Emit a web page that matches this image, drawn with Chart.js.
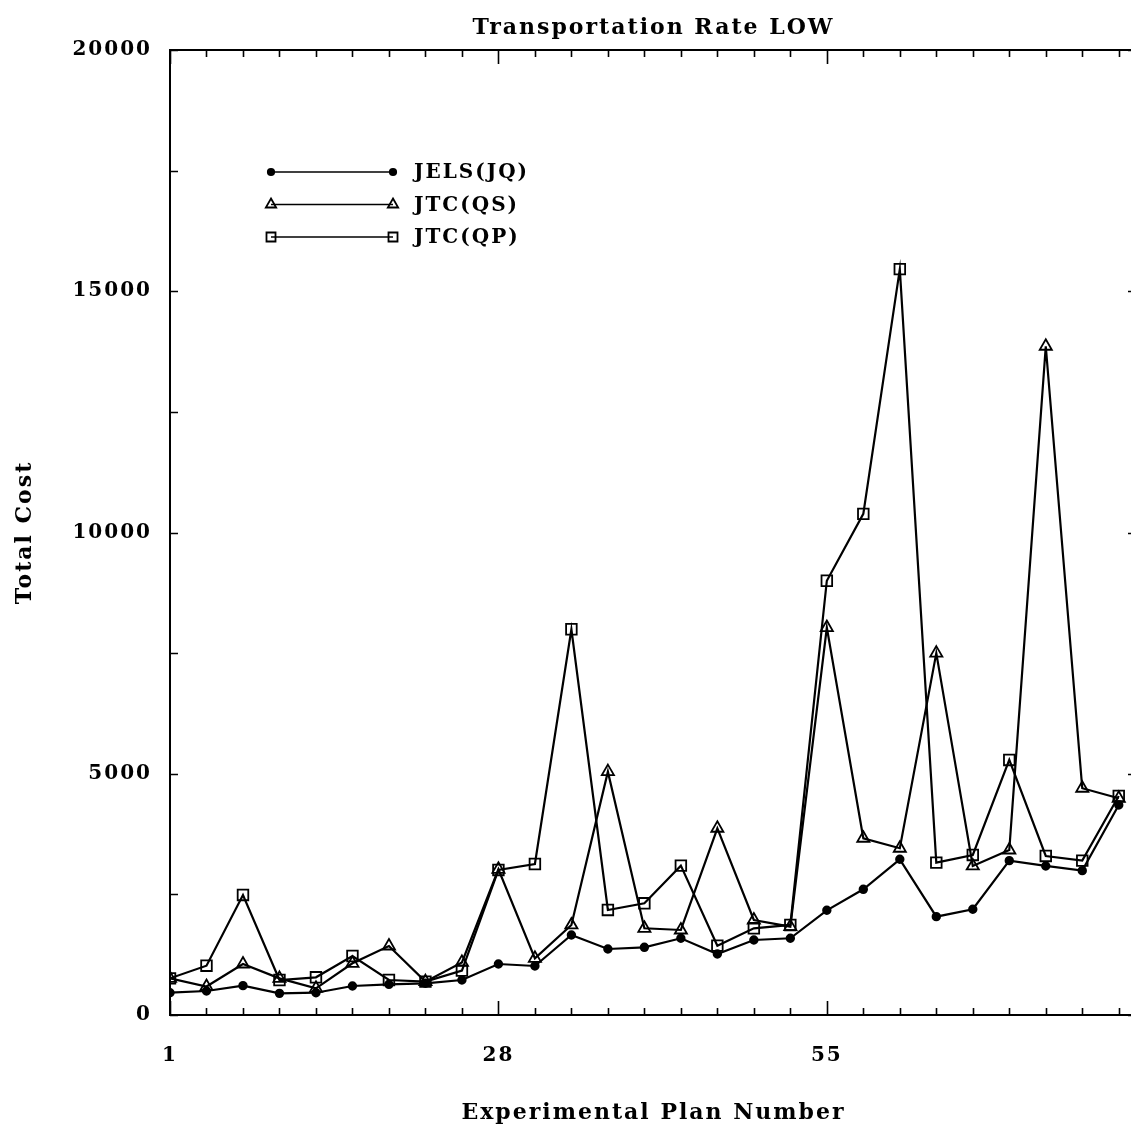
<!DOCTYPE html>
<html><head><meta charset="utf-8">
<script src="https://cdn.jsdelivr.net/npm/chart.js@4.4.1/dist/chart.umd.min.js"></script>
<style>
html,body{margin:0;padding:0;background:#fff;overflow:hidden}
#wrap{width:1131px;height:1130px;overflow:hidden;position:relative;background:#fff}
canvas{display:block}
</style></head><body>
<div id="wrap"><canvas id="c" width="1150" height="1130" style="width:1150px;height:1130px"></canvas></div>
<script>
// ---- data ----
const planNumbers = [1,4,7,10,13,16,19,22,25,28,31,34,37,40,43,46,49,52,55,58,61,64,67,70,73,76,79];
const jelsJQ = [462,497,608,449,462,601,636,657,725,1057,1016,1658,1368,1403,1590,1265,1555,1590,2170,2605,3227,2038,2191,3199,3089,2992,4353];
const jtcQS  = [760,590,1057,760,553,1071,1430,691,1090,3020,1175,1866,5044,1797,1762,3870,1969,1831,8030,3663,3456,7500,3089,3420,13860,4700,4492];
const jtcQP  = [760,1022,2488,725,781,1223,725,691,919,3006,3130,7995,2177,2315,3095,1437,1797,1866,9000,10386,15458,3158,3317,5286,3296,3199,4540];
const seriesNames = ['JELS(JQ)','JTC(QS)','JTC(QP)'];
const xTickLabels = [1,28,55];
const yTickValues = [0,5000,10000,15000,20000];
const chartTitle = 'Transportation Rate LOW';
const xTitle = 'Experimental Plan Number';
const yTitle = 'Total Cost';

const FONT = '"DejaVu Serif", "Liberation Serif", serif';
const SPACING = '2px';
const toPts = arr => planNumbers.map((p,i)=>({x:p, y:arr[i]}));

function drawMarker(ctx, style, r, x, y, fill){
  ctx.beginPath();
  if(style==='circle'){ ctx.arc(x,y,r,0,Math.PI*2); }
  else if(style==='triangle'){
    ctx.moveTo(x, y - r);
    ctx.lineTo(x + Math.sin(Math.PI*2/3)*r, y - Math.cos(Math.PI*2/3)*r);
    ctx.lineTo(x + Math.sin(Math.PI*4/3)*r, y - Math.cos(Math.PI*4/3)*r);
    ctx.closePath();
  } else { const s = r*Math.SQRT1_2; ctx.rect(x-s,y-s,2*s,2*s); }
  if(fill){ ctx.fillStyle = fill; ctx.fill(); }
  ctx.stroke();
}

const spacingPlugin = {
  id:'spacing',
  beforeInit(chart){ try{ chart.ctx.letterSpacing = SPACING; }catch(e){} },
  beforeDraw(chart){ try{ chart.ctx.letterSpacing = SPACING; }catch(e){} }
};

const framePlugin = {
  id:'frame',
  afterDraw(chart){
    const {ctx, chartArea:a, scales:{x,y}} = chart;
    ctx.save();
    ctx.strokeStyle = '#000';
    ctx.lineWidth = 2;
    ctx.lineCap = 'butt';
    ctx.beginPath();
    ctx.moveTo(a.left-1, a.top); ctx.lineTo(a.right, a.top);
    ctx.moveTo(a.right, a.top); ctx.lineTo(a.right, a.bottom);
    ctx.stroke();
    ctx.lineWidth = 1.6;
    ctx.beginPath();
    for(let v=1; v<=x.max; v+=3){
      const px = Math.round(x.getPixelForValue(v))+0.5;
      const len = xTickLabels.includes(v) ? 14 : 7;
      ctx.moveTo(px, a.bottom); ctx.lineTo(px, a.bottom-len);
      ctx.moveTo(px, a.top); ctx.lineTo(px, a.top+len);
    }
    for(let v=0; v<=y.max; v+=2500){
      const py = Math.round(y.getPixelForValue(v))+0.5;
      ctx.moveTo(a.left, py); ctx.lineTo(a.left+8, py);
      if(v%5000===0){ ctx.moveTo(a.right, py); ctx.lineTo(a.right-9, py); }
    }
    ctx.stroke();
    ctx.restore();
  }
};

const legendPlugin = {
  id:'lineLegend',
  afterDraw(chart){
    const ctx = chart.ctx;
    const x0 = 271, x1 = 393, tx = 414, y0 = 172, dy = 32.5;
    ctx.save();
    try{ ctx.letterSpacing = SPACING; }catch(e){}
    chart.data.datasets.forEach((ds,i)=>{
      const yy = y0 + i*dy;
      ctx.strokeStyle = '#000'; ctx.lineWidth = 1.6;
      ctx.beginPath(); ctx.moveTo(x0,yy); ctx.lineTo(x1,yy); ctx.stroke();
      ctx.lineWidth = ds.pointBorderWidth;
      const fill = ds.pointStyle==='circle' ? '#000' : null;
      const r = ds.pointStyle==='circle' ? 3.2 : ds.pointRadius*0.85;
      drawMarker(ctx, ds.pointStyle, r, x0, yy, fill);
      drawMarker(ctx, ds.pointStyle, r, x1, yy, fill);
      ctx.fillStyle = '#000';
      ctx.font = 'bold 20px ' + FONT;
      ctx.textAlign = 'left'; ctx.textBaseline = 'middle';
      ctx.fillText(ds.label, tx, yy+1);
    });
    ctx.restore();
  }
};

const common = {
  borderColor:'#000', borderWidth:2.2, tension:0, fill:false,
  pointBorderColor:'#000', pointBorderWidth:1.8
};

new Chart(document.getElementById('c').getContext('2d'), {
  type:'line',
  data:{ datasets:[
    Object.assign({label:seriesNames[0], data:toPts(jelsJQ), pointStyle:'circle', pointRadius:3.8, pointBackgroundColor:'#000'}, common),
    Object.assign({label:seriesNames[1], data:toPts(jtcQS), pointStyle:'triangle', pointRadius:7, pointBackgroundColor:'rgba(0,0,0,0)'}, common),
    Object.assign({label:seriesNames[2], data:toPts(jtcQP), pointStyle:'rect', pointRadius:7.5, pointBackgroundColor:'rgba(0,0,0,0)'}, common)
  ]},
  options:{
    responsive:false, animation:false, devicePixelRatio:1,
    layout:{padding:{left:0,right:13,top:0,bottom:0}},
    plugins:{
      legend:{display:false}, tooltip:{enabled:false},
      title:{display:true, fullSize:false, text:chartTitle, color:'#000', font:{family:FONT, size:22, weight:'bold'}, padding:{top:15,bottom:8.6}}
    },
    scales:{
      x:{
        type:'linear', min:1, max:80.5,
        afterBuildTicks: s => { s.ticks = xTickLabels.map(v=>({value:v})); },
        afterFit: s => { s.height = 115; },
        grid:{display:false, drawTicks:false},
        border:{display:true, color:'#000', width:2},
        ticks:{color:'#000', font:{family:FONT, size:20, weight:'bold'}, padding:29, maxRotation:0, autoSkip:false, callback:v=>String(v)},
        title:{display:true, text:xTitle, color:'#000', font:{family:FONT, size:22, weight:'bold'}, padding:{top:0,bottom:4}}
      },
      y:{
        type:'linear', min:0, max:20000,
        afterBuildTicks: s => { s.ticks = yTickValues.map(v=>({value:v})); },
        afterFit: s => { s.width = 170; },
        grid:{display:false, drawTicks:false},
        border:{display:true, color:'#000', width:2},
        ticks:{color:'#000', font:{family:FONT, size:20, weight:'bold'}, padding:18, callback:v=>String(v)},
        title:{display:true, text:yTitle, color:'#000', font:{family:FONT, size:22, weight:'bold'}, padding:{top:12,bottom:0}}
      }
    }
  },
  plugins:[spacingPlugin, framePlugin, legendPlugin]
});
</script>
</body></html>
